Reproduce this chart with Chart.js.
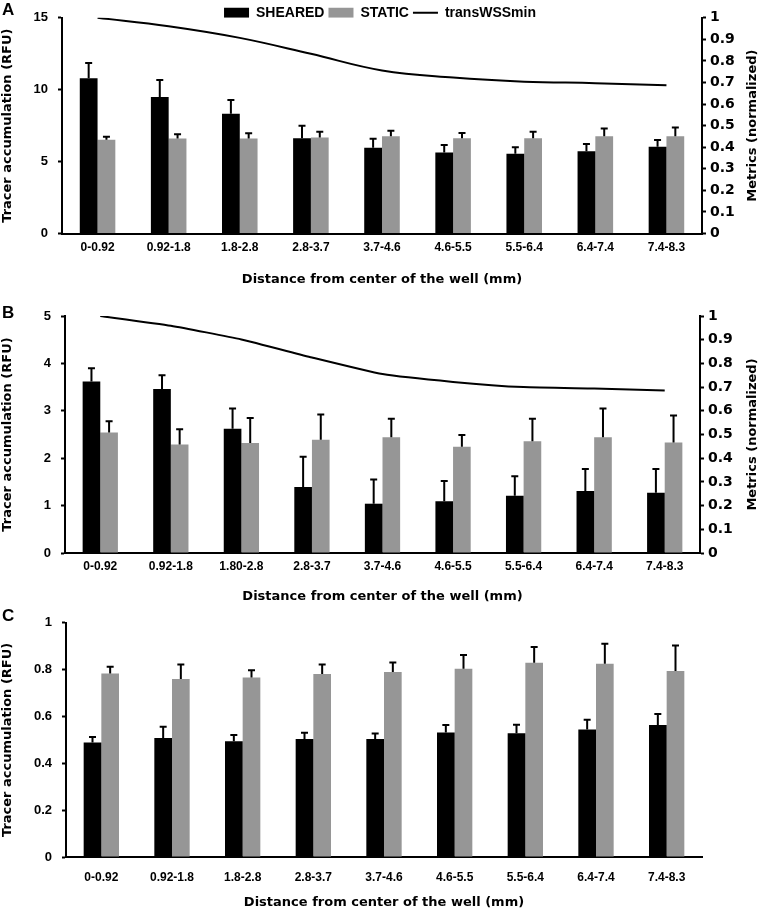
<!DOCTYPE html>
<html>
<head>
<meta charset="utf-8">
<script src="https://cdn.jsdelivr.net/npm/chart.js@4.4.0/dist/chart.umd.min.js"></script>
<style>
  body { margin: 0; background: #fff; }
  #wrap { position: relative; width: 760px; height: 910px; }
  canvas { position: absolute; left: 0; }
</style>
</head>
<body>
<div id="wrap">
  <canvas id="chartA" width="760" height="290" style="top:0"></canvas>
  <canvas id="chartB" width="760" height="315" style="top:290px"></canvas>
  <canvas id="chartC" width="760" height="305" style="top:605px"></canvas>
</div>
<script>
// categories (distance bins, mm)
const distLabels = ['0-0.92', '0.92-1.8', '1.8-2.8', '2.8-3.7', '3.7-4.6', '4.6-5.5', '5.5-6.4', '6.4-7.4', '7.4-8.3'];
const distLabelsB = ['0-0.92', '0.92-1.8', '1.80-2.8', '2.8-3.7', '3.7-4.6', '4.6-5.5', '5.5-6.4', '6.4-7.4', '7.4-8.3'];

// panel A
const shearedA = [10.8, 9.5, 8.33, 6.63, 5.96, 5.63, 5.54, 5.72, 6.04];
const shearedErrA = [1.05, 1.18, 0.95, 0.86, 0.63, 0.53, 0.46, 0.51, 0.46];
const staticA = [6.52, 6.61, 6.61, 6.68, 6.76, 6.62, 6.62, 6.76, 6.76];
const staticErrA = [0.21, 0.30, 0.37, 0.40, 0.39, 0.37, 0.46, 0.55, 0.62];
const transWSSminA = [1.0, 0.961, 0.907, 0.833, 0.756, 0.723, 0.704, 0.697, 0.687];

// panel B
const shearedB = [3.62, 3.46, 2.62, 1.39, 1.04, 1.09, 1.21, 1.31, 1.27];
const shearedErrB = [0.28, 0.29, 0.43, 0.64, 0.51, 0.43, 0.41, 0.46, 0.50];
const staticB = [2.54, 2.29, 2.32, 2.39, 2.44, 2.24, 2.36, 2.44, 2.33];
const staticErrB = [0.24, 0.32, 0.53, 0.53, 0.39, 0.25, 0.47, 0.61, 0.57];
const transWSSminB = [1.0, 0.959, 0.901, 0.825, 0.755, 0.722, 0.70, 0.694, 0.686];

// panel C
const shearedC = [0.489, 0.508, 0.494, 0.504, 0.504, 0.532, 0.528, 0.544, 0.564];
const shearedErrC = [0.023, 0.048, 0.027, 0.027, 0.023, 0.032, 0.037, 0.042, 0.047];
const staticC = [0.784, 0.760, 0.766, 0.781, 0.790, 0.804, 0.829, 0.825, 0.794];
const staticErrC = [0.028, 0.062, 0.031, 0.041, 0.041, 0.058, 0.068, 0.086, 0.109];

const FONT = '"Liberation Sans", Arial, sans-serif';
const WIDE = '"DejaVu Sans", "Liberation Sans", sans-serif';
Chart.defaults.font.family = FONT;
Chart.defaults.font.weight = 'bold';
Chart.defaults.color = '#000';

// plain tick text: 1 instead of 1.0, 0 instead of 0.0
const plainTick = v => String(Math.round(v * 100) / 100);

// upward-only error bars, drawn from each dataset's "errors" array
const errorBars = {
    id: 'errorBars',
    afterDatasetsDraw(chart) {
        const ctx = chart.ctx;
        chart.data.datasets.forEach((ds, i) => {
            if (!ds.errors) return;
            const meta = chart.getDatasetMeta(i);
            const scale = chart.scales[meta.yAxisID];
            ctx.save();
            ctx.strokeStyle = '#000';
            ctx.lineWidth = 2;
            meta.data.forEach((bar, j) => {
                const top = scale.getPixelForValue(ds.data[j] + ds.errors[j]);
                ctx.beginPath();
                ctx.moveTo(bar.x, bar.y);
                ctx.lineTo(bar.x, top);
                ctx.moveTo(bar.x - 3.5, top);
                ctx.lineTo(bar.x + 3.5, top);
                ctx.stroke();
            });
            ctx.restore();
        });
    }
};

// panel letter and the upward-reading right axis title
const panelText = {
    id: 'panelText',
    afterDraw(chart, args, opts) {
        const ctx = chart.ctx;
        ctx.save();
        ctx.fillStyle = '#000';
        ctx.font = 'bold 17px ' + FONT;
        ctx.textBaseline = 'top';
        ctx.fillText(opts.letter, 2, opts.letterY);
        if (opts.rightTitle) {
            const area = chart.chartArea;
            ctx.font = 'bold 13px ' + WIDE;
            ctx.translate(chart.width - 7, (area.top + area.bottom) / 2);
            ctx.rotate(-Math.PI / 2);
            ctx.textAlign = 'center';
            ctx.textBaseline = 'middle';
            ctx.fillText(opts.rightTitle, 0, 0);
        }
        ctx.restore();
    }
};

function barSets(sheared, shearedErr, stat, statErr) {
    return [
        { label: 'SHEARED', data: sheared, errors: shearedErr, backgroundColor: '#000000', borderWidth: 0,
          categoryPercentage: 0.5, barPercentage: 1.0, yAxisID: 'y' },
        { label: 'STATIC', data: stat, errors: statErr, backgroundColor: '#969696', borderWidth: 0,
          categoryPercentage: 0.5, barPercentage: 1.0, yAxisID: 'y' }
    ];
}

function lineSet(values, tension) {
    return { type: 'line', label: 'transWSSmin', data: values, yAxisID: 'y2', borderColor: '#000',
             backgroundColor: '#000', borderWidth: 2, pointRadius: 0, tension: tension, fill: false };
}

function makeChart(id, p) {
    const scales = {
        x: {
            grid: { display: false, drawTicks: false, tickLength: 0 },
            border: { color: '#000', width: 2 },
            ticks: { autoSkip: false, maxRotation: 0, padding: p.xTickPad, font: { size: 12 } },
            title: { display: true, text: 'Distance from center of the well (mm)',
                     font: { family: WIDE, size: 13, lineHeight: 1 }, padding: { top: 0, bottom: p.xTitlePad } },
            afterFit(scale) { scale.height = p.xHeight; }
        },
        y: {
            position: 'left', min: 0, max: p.yMax,
            grid: { drawOnChartArea: false, color: '#000', tickLength: 4, tickWidth: 2 },
            border: { color: '#000', width: 2 },
            ticks: { stepSize: p.yStep, padding: 10, font: { size: 13 }, callback: plainTick },
            title: { display: true, text: 'Tracer accumulation (RFU)',
                     font: { family: WIDE, size: 13, lineHeight: 1 }, padding: { top: 1.5, bottom: 0 } },
            afterFit(scale) { scale.width = p.left; }
        }
    };
    if (p.line) {
        scales.y2 = {
            position: 'right', min: 0, max: 1,
            grid: { drawOnChartArea: false, color: '#000', tickLength: 4, tickWidth: 2 },
            border: { color: '#000', width: 2 },
            ticks: { stepSize: 0.1, padding: 4, font: { family: WIDE, size: 14 }, callback: plainTick },
            afterFit(scale) { scale.width = p.right; }
        };
    }
    const datasets = barSets(p.sheared, p.shearedErr, p.stat, p.statErr);
    if (p.line) datasets.push(p.line);

    return new Chart(document.getElementById(id).getContext('2d'), {
        type: 'bar',
        data: { labels: p.labels, datasets: datasets },
        options: {
            responsive: false,
            animation: false,
            devicePixelRatio: 1,
            layout: { padding: { top: p.top, right: p.line ? 0 : p.right, left: 0, bottom: 0 } },
            scales: scales,
            plugins: {
                tooltip: { enabled: false },
                legend: {
                    display: !!p.legend,
                    position: 'top',
                    maxHeight: 16,
                    labels: {
                        color: '#000',
                        usePointStyle: true,
                        pointStyleWidth: 25,
                        boxHeight: 10,
                        padding: 4,
                        font: { size: 14, weight: 'bold' },
                        generateLabels(chart) {
                            const items = Chart.defaults.plugins.legend.labels.generateLabels(chart);
                            items.forEach(it => {
                                it.pointStyle = chart.data.datasets[it.datasetIndex].type === 'line' ? 'line' : 'rect';
                            });
                            return items;
                        }
                    }
                },
                panelText: { letter: p.letter, letterY: p.letterY, rightTitle: p.line ? 'Metrics (normalized)' : null }
            }
        },
        plugins: [errorBars, panelText]
    });
}

// Panel A
makeChart('chartA', {
    labels: distLabels, sheared: shearedA, shearedErr: shearedErrA, stat: staticA, statErr: staticErrA,
    line: lineSet(transWSSminA, 0.4), legend: true,
    yMax: 15, yStep: 5, top: 0, left: 62, right: 58,
    xHeight: 56.5, xTickPad: 7.3, xTitlePad: 3.5, letter: 'A', letterY: 2
});

// Panel B
makeChart('chartB', {
    labels: distLabelsB, sheared: shearedB, shearedErr: shearedErrB, stat: staticB, statErr: staticErrB,
    line: lineSet(transWSSminB, 0.15), legend: false,
    yMax: 5, yStep: 1, top: 26, left: 65, right: 60,
    xHeight: 52, xTickPad: 6.8, xTitlePad: 1.5, letter: 'B', letterY: 15
});

// Panel C
makeChart('chartC', {
    labels: distLabels, sheared: shearedC, shearedErr: shearedErrC, stat: staticC, statErr: staticErrC,
    line: null, legend: false,
    yMax: 1, yStep: 0.2, top: 17, left: 66, right: 58,
    xHeight: 53, xTickPad: 13.8, xTitlePad: 0.5, letter: 'C', letterY: 3
});
</script>
</body>
</html>
